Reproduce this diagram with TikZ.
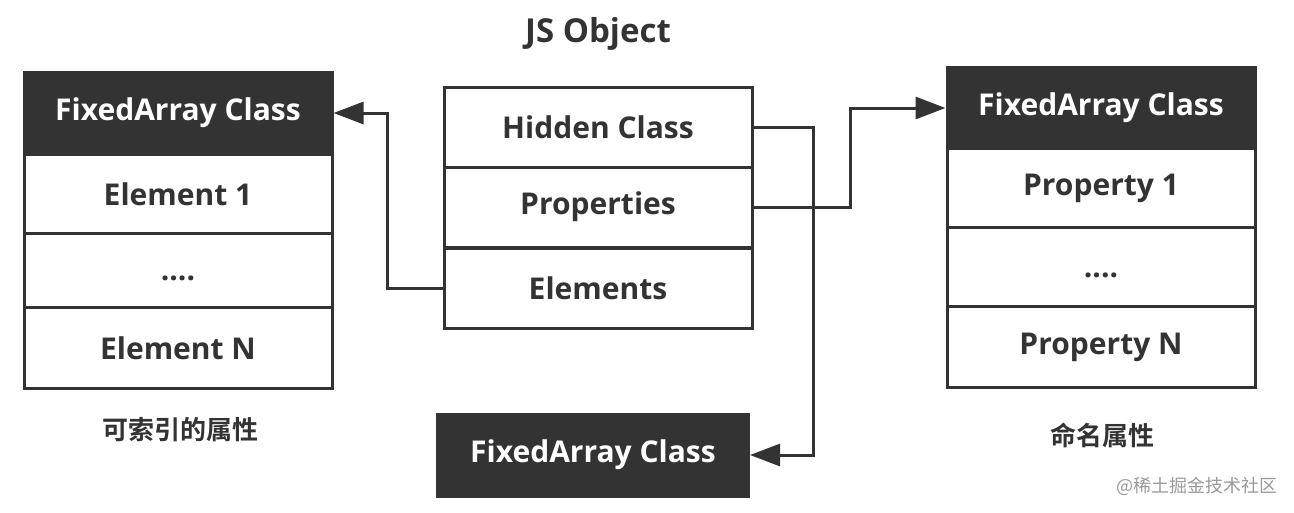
\documentclass[tikz,border=0pt]{standalone}
\usepackage{fontspec}
\setmainfont{Open Sans}
\newfontfamily\cjk{Noto Sans CJK SC}[BoldFont={Noto Sans CJK SC Bold}]
\usepackage{xcolor}
\usetikzlibrary{arrows.meta,positioning}
\definecolor{dunkel}{HTML}{333333}

\begin{document}
\begin{tikzpicture}[
    x=1pt,y=-1pt,
    >={Triangle[length=30pt,width=22pt]},
    line width=3pt,
    every node/.style={font=\bfseries\fontsize{30}{34}\selectfont,text=dunkel,inner sep=0pt},
    kopf/.style={draw=dunkel,fill=dunkel,text=white,minimum width=308pt,minimum height=81pt},
    zeile/.style={draw=dunkel,fill=white,minimum width=308pt,minimum height=79pt}
]
\useasboundingbox (0,0) rectangle (1294,512);

%------------------------------------------------
% Elements (links)
%------------------------------------------------
\node[kopf] (linkskopf) at (178,113) {FixedArray Class};
\foreach \y/\h/\nome/\txt in {
194/79/elem1/{Element 1},
270/74/elemdots/{\vphantom{E}....},
348/81/elemN/{Element N}}
{
    \node[zeile,minimum height=\h pt] (\nome) at (178,\y) {\txt};
}
\node[font=\cjk\bfseries\fontsize{26}{28}\selectfont] (linkslabel) at (180,430) {可索引的属性};

%------------------------------------------------
% JS Object (mitte)
%------------------------------------------------
\node[font=\bfseries\fontsize{33}{36}\selectfont] (titel) at (598,34) {JS Object};
\foreach \y/\nome/\txt in {
127/hidden/{Hidden Class},
207/props/{Properties},
288/elems/{Elements}}
{
    \node[zeile,minimum height=80pt] (\nome) at (598,\y) {\txt};
}
\node[kopf,minimum width=311pt,minimum height=82pt] (unten) at (593,455) {FixedArray Class};

%------------------------------------------------
% Properties (rechts)
%------------------------------------------------
\node[kopf] (rechtskopf) at (1101,108) {FixedArray Class};
\foreach \y/\h/\nome/\txt in {
188/79/prop1/{Property 1},
267/79/propdots/{\vphantom{E}....},
347/81/propN/{Property N}}
{
    \node[zeile,minimum height=\h pt] (\nome) at (1101,\y) {\txt};
}
\node[font=\cjk\bfseries\fontsize{26}{28}\selectfont] (rechtslabel) at (1102,435) {命名属性};

%------------------------------------------------
% Pfeile
%------------------------------------------------

% elements -> linkes array
\draw[->,draw=dunkel] (elems.west) -- ++(-55,0) |- (linkskopf.east);

% properties -> rechtes array
\draw[->,draw=dunkel] (props.east) -- ++(97,0) |- (rechtskopf.west);

% hidden class -> unteres array
\draw[->,draw=dunkel] (hidden.east) -- ++(60,0) |- (unten.east);

% wasserzeichen
\node[font=\cjk\fontsize{18}{20}\selectfont,text=black!40] (zeichen) at (1197,486) {@稀土掘金技术社区};

\end{tikzpicture}
\end{document}
